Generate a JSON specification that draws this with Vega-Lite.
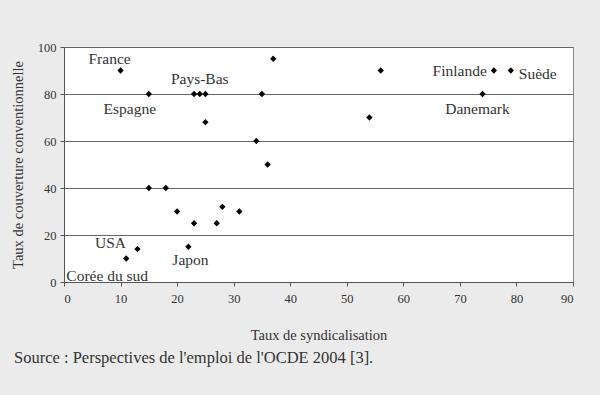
{
  "$schema": "https://vega.github.io/schema/vega-lite/v6.json",
  "autosize": {"type": "none"},
  "width": 509,
  "height": 235,
  "padding": {"left": 64, "top": 47, "right": 27, "bottom": 113},
  "background": "#ebebeb",
  "view": {"fill": "white", "stroke": "#888888", "strokeWidth": 1},
  "config": {
    "font": "Liberation Serif, Times New Roman, serif",
    "text": {"font": "Liberation Serif, Times New Roman, serif"},
    "axis": {"labelFont": "Liberation Serif, Times New Roman, serif", "titleFont": "Liberation Serif, Times New Roman, serif", "labelColor": "#333", "titleColor": "#333", "titleFontWeight": "normal", "labelFontSize": 12.5, "titleFontSize": 14.5, "domainColor": "#555", "tickColor": "#555", "tickSize": 4}
  },
  "title": {"text": "Source : Perspectives de l'emploi de l'OCDE 2004 [3].", "orient": "bottom", "anchor": "start", "frame": "group", "dx": -50, "offset": 8, "font": "Liberation Serif, Times New Roman, serif", "fontSize": 16.5, "fontWeight": "normal", "color": "#333"},
  "data": {"values": [
    {"syn": 10, "cov": 90, "pays": "France"},
    {"syn": 15, "cov": 80, "pays": "Espagne"},
    {"syn": 23, "cov": 80, "pays": ""},
    {"syn": 24, "cov": 80, "pays": "Pays-Bas"},
    {"syn": 25, "cov": 80, "pays": ""},
    {"syn": 25, "cov": 68, "pays": ""},
    {"syn": 37, "cov": 95, "pays": ""},
    {"syn": 35, "cov": 80, "pays": ""},
    {"syn": 34, "cov": 60, "pays": ""},
    {"syn": 36, "cov": 50, "pays": ""},
    {"syn": 15, "cov": 40, "pays": ""},
    {"syn": 18, "cov": 40, "pays": ""},
    {"syn": 20, "cov": 30, "pays": ""},
    {"syn": 23, "cov": 25, "pays": ""},
    {"syn": 27, "cov": 25, "pays": ""},
    {"syn": 28, "cov": 32, "pays": ""},
    {"syn": 31, "cov": 30, "pays": ""},
    {"syn": 13, "cov": 14, "pays": "USA"},
    {"syn": 11, "cov": 10, "pays": "Corée du sud"},
    {"syn": 22, "cov": 15, "pays": "Japon"},
    {"syn": 56, "cov": 90, "pays": ""},
    {"syn": 54, "cov": 70, "pays": ""},
    {"syn": 76, "cov": 90, "pays": "Finlande"},
    {"syn": 79, "cov": 90, "pays": "Suède"},
    {"syn": 74, "cov": 80, "pays": "Danemark"}
  ]},
  "encoding": {
    "x": {"field": "syn", "type": "quantitative", "scale": {"domain": [0, 90], "nice": false}, "axis": {"values": [0,10,20,30,40,50,60,70,80,90], "grid": false, "title": "Taux de syndicalisation", "titlePadding": 24, "labelPadding": 6}},
    "y": {"field": "cov", "type": "quantitative", "scale": {"domain": [0, 100], "nice": false}, "axis": {"values": [0,20,40,60,80,100], "grid": true, "gridColor": "#666", "gridOpacity": 1, "title": "Taux de couverture conventionnelle", "titlePadding": 12, "labelPadding": 4}}
  },
  "layer": [
    {"mark": {"type": "point", "shape": "diamond", "filled": true, "color": "black", "size": 40, "opacity": 1}},
    {"transform": [{"filter": "datum.pays == 'France'"}], "mark": {"type": "text", "fontSize": 15.5, "color": "#333", "dx": -11, "dy": -12}, "encoding": {"text": {"field": "pays"}}},
    {"transform": [{"filter": "datum.pays == 'Espagne'"}], "mark": {"type": "text", "fontSize": 15.5, "color": "#333", "dx": -19, "dy": 15}, "encoding": {"text": {"field": "pays"}}},
    {"transform": [{"filter": "datum.pays == 'Pays-Bas'"}], "mark": {"type": "text", "fontSize": 15.5, "color": "#333", "dx": 0, "dy": -15}, "encoding": {"text": {"field": "pays"}}},
    {"transform": [{"filter": "datum.pays == 'USA'"}], "mark": {"type": "text", "fontSize": 15.5, "color": "#333", "dx": -27, "dy": -6}, "encoding": {"text": {"field": "pays"}}},
    {"transform": [{"filter": "datum.pays == 'Corée du sud'"}], "mark": {"type": "text", "fontSize": 15.5, "color": "#333", "dx": -19, "dy": 17}, "encoding": {"text": {"field": "pays"}}},
    {"transform": [{"filter": "datum.pays == 'Japon'"}], "mark": {"type": "text", "fontSize": 15.5, "color": "#333", "dx": 2, "dy": 13}, "encoding": {"text": {"field": "pays"}}},
    {"transform": [{"filter": "datum.pays == 'Finlande'"}], "mark": {"type": "text", "fontSize": 15.5, "color": "#333", "align": "right", "dx": -7, "dy": 0}, "encoding": {"text": {"field": "pays"}}},
    {"transform": [{"filter": "datum.pays == 'Suède'"}], "mark": {"type": "text", "fontSize": 15.5, "color": "#333", "align": "left", "dx": 8, "dy": 3}, "encoding": {"text": {"field": "pays"}}},
    {"transform": [{"filter": "datum.pays == 'Danemark'"}], "mark": {"type": "text", "fontSize": 15.5, "color": "#333", "dx": -5, "dy": 15}, "encoding": {"text": {"field": "pays"}}}
  ]
}
